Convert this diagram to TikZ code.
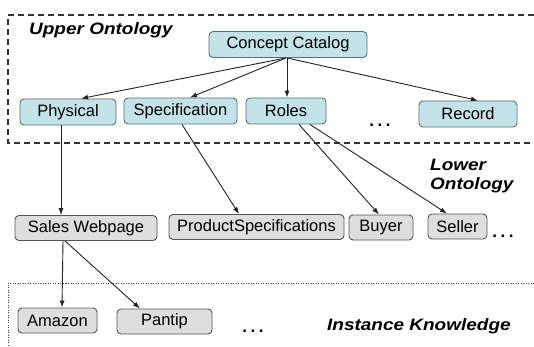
\documentclass[tikz,border=0pt]{standalone}
\usepackage{fontspec}
\usepackage{graphicx}
\setmainfont{Liberation Sans}
\usetikzlibrary{arrows.meta}
\definecolor{tealfill}{HTML}{C4E3E8}
\definecolor{tealdraw}{HTML}{4F7278}
\definecolor{grayfill}{HTML}{DEDEDE}
\definecolor{graydraw}{HTML}{555555}
\definecolor{linec}{HTML}{222222}
\tikzset{
  upbox/.style={draw=tealdraw, fill=tealfill, rounded corners=4pt, line width=0.9pt,
    minimum height=26pt, inner sep=0pt, font=\fontsize{16.5}{18}\selectfont, text=black},
  lowbox/.style={draw=graydraw, fill=grayfill, rounded corners=4pt, line width=0.9pt,
    minimum height=25pt, inner sep=0pt, font=\fontsize{16.5}{18}\selectfont, text=black},
  conn/.style={draw=linec, line width=0.9pt, -{Latex[length=7pt,width=5pt]}},
  lbl/.style={inner sep=0pt, font=\fontsize{16.5}{19}\selectfont\bfseries\itshape},
  dots/.style={inner sep=0pt, font=\fontsize{17}{18}\selectfont\bfseries},
}
\newcommand{\wide}[1]{\scalebox{1.15}[1]{#1}}
\newcommand{\tridots}{.\hspace{3.5pt}.\hspace{3.5pt}.}
\begin{document}
\begin{tikzpicture}[x=1pt, y=-1pt]
\useasboundingbox (0,0) rectangle (534,347);
% frames
\draw[line width=1.2pt, draw=black!80, dash pattern=on 6pt off 4pt] (534,15) -- (8,15) -- (8,143) -- (534,143);
\draw[line width=0.8pt, draw=black!75, dash pattern=on 1pt off 1.5pt] (534,283) -- (8,283) -- (8,347);
% labels
\node[lbl, anchor=west] (lu) at (29,30) {\wide{Upper Ontology}};
\node[lbl, anchor=west, align=left] (ll) at (430,176) {\wide{Lower}\\\wide{Ontology}};
\node[lbl, anchor=west] (li) at (327,326) {\wide{Instance Knowledge}};
% upper nodes
\node[upbox, minimum width=158pt] (cc) at (288,44.5) {Concept Catalog};
\node[upbox, minimum width=96pt] (phys) at (68,112) {Physical};
\node[upbox, minimum width=113pt] (spec) at (180.5,111) {Specification};
\node[upbox, minimum width=80pt] (roles) at (286,111) {Roles};
\node[upbox, minimum width=98pt] (rec) at (468,114) {Record};
% lower nodes
\node[lowbox, minimum width=142pt] (sales) at (86,228) {Sales Webpage};
\node[lowbox, minimum width=175pt] (prod) at (256.5,227) {ProductSpecifications};
\node[lowbox, minimum width=64pt] (buyer) at (381,227.5) {Buyer};
\node[lowbox, minimum width=59pt] (seller) at (457.5,226.5) {Seller};
% instances
\node[lowbox, minimum width=79pt] (amazon) at (57.5,320.5) {Amazon};
\node[lowbox, minimum width=95pt] (pantip) at (164.5,321.5) {Pantip};
% dots
\node[dots] (d1) at (380,125) {\tridots};
\node[dots] (d2) at (503,236) {\tridots};
\node[dots] (d3) at (253,331) {\tridots};
% connectors
\draw[conn] ([xshift=-2pt]cc.south) -- ([xshift=13pt]phys.north);
\draw[conn] ([xshift=-2pt]cc.south) -- ([xshift=9.5pt]spec.north);
\draw[conn] ([xshift=-1pt]cc.south) -- ([xshift=1pt]roles.north);
\draw[conn] ([xshift=-1pt]cc.south) -- ([xshift=10pt]rec.north);
\draw[conn] ([xshift=-7pt]phys.south) -- ([xshift=-7pt]phys.south |- sales.north);
\draw[conn] ([xshift=1.5pt]spec.south) -- ([xshift=-17.5pt]prod.north);
\draw[conn] ([xshift=13pt]roles.south) -- ([xshift=-2pt]buyer.north);
\draw[conn] ([xshift=24pt]roles.south) -- ([xshift=-10.5pt]seller.north);
\draw[conn] ([xshift=-23pt]sales.south) -- ([xshift=4.5pt]amazon.north);
\draw[conn] ([xshift=-21pt]sales.south) -- ([xshift=-24.5pt]pantip.north);
\end{tikzpicture}
\end{document}
